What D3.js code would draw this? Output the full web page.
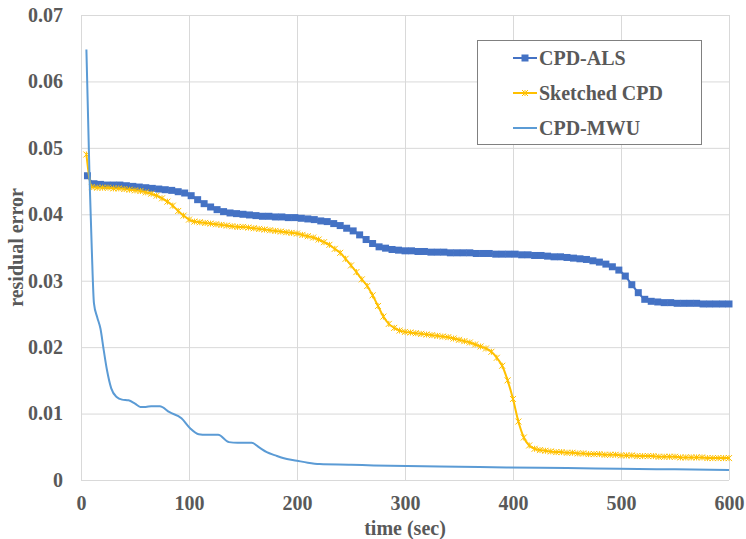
<!DOCTYPE html>
<html>
<head>
<meta charset="utf-8">
<script src="https://d3js.org/d3.v7.min.js"></script>
<style>
body { margin: 0; background: #fff; }
text { font-family: "Liberation Serif", "Times New Roman", serif; font-weight: bold; fill: #595959; }
.grid line { stroke: #d9d9d9; stroke-width: 1; }
</style>
</head>
<body>
<div id="chart"></div>
<script>
// series names + colors
var seriesNames = ["CPD-ALS", "Sketched CPD", "CPD-MWU"];
var seriesColors = ["#4472C4", "#FFC000", "#5B9BD5"];

// CPD-ALS: time (sec) and residual error
var alsTime = [6,12,18,24,30,36,42,48,54,60,66,72,78,84,90,96,102,108,114,120,126,132,138,144,150,156,162,168,174,180,186,192,198,204,210,216,222,228,234,240,246,252,258,264,270,276,282,288,294,300,306,312,318,324,330,336,342,348,354,360,366,372,378,384,390,396,402,408,414,420,426,432,438,444,450,456,462,468,474,480,486,492,498,504,510,516,522,528,534,540,546,552,558,564,570,576,582,588,594,600];
var alsErr = [0.0458,0.0446,0.0445,0.0444,0.0444,0.0444,0.0443,0.0442,0.0441,0.0440,0.0439,0.0438,0.0437,0.0436,0.0434,0.0432,0.0428,0.0422,0.0416,0.0411,0.0407,0.0404,0.0402,0.0401,0.0400,0.0399,0.0398,0.0397,0.0397,0.0396,0.0396,0.0395,0.0395,0.0394,0.0393,0.0392,0.0390,0.0389,0.0386,0.0383,0.0379,0.0375,0.0369,0.0362,0.0356,0.0351,0.0349,0.0347,0.0346,0.0345,0.0345,0.0344,0.0344,0.0343,0.0343,0.0343,0.0342,0.0342,0.0342,0.0342,0.0341,0.0341,0.0341,0.0340,0.0340,0.0340,0.0340,0.0339,0.0339,0.0338,0.0338,0.0337,0.0336,0.0336,0.0335,0.0334,0.0333,0.0332,0.0330,0.0328,0.0325,0.0321,0.0316,0.0307,0.0294,0.0282,0.0272,0.0269,0.0268,0.0267,0.0267,0.0266,0.0266,0.0266,0.0266,0.0265,0.0265,0.0265,0.0265,0.0265];

// Sketched CPD
var skTime = [5,10,15,20,25,30,35,40,45,50,55,60,65,70,75,80,85,90,95,100,105,110,115,120,125,130,135,140,145,150,155,160,165,170,175,180,185,190,195,200,205,210,215,220,225,230,235,240,245,250,255,260,265,270,275,280,285,290,295,300,305,310,315,320,325,330,335,340,345,350,355,360,365,370,375,380,385,390,395,400,405,410,415,420,425,430,435,440,445,450,455,460,465,470,475,480,485,490,495,500,505,510,515,520,525,530,535,540,545,550,555,560,565,570,575,580,585,590,595,600];
var skErr = [0.0490,0.0441,0.0440,0.0440,0.0440,0.0439,0.0439,0.0438,0.0437,0.0436,0.0435,0.0433,0.0431,0.0428,0.0424,0.0419,0.0413,0.0405,0.0398,0.0392,0.0389,0.0388,0.0387,0.0386,0.0385,0.0384,0.0383,0.0382,0.0381,0.0381,0.0380,0.0379,0.0378,0.0377,0.0376,0.0375,0.0374,0.0373,0.0372,0.0371,0.0369,0.0367,0.0365,0.0362,0.0358,0.0354,0.0348,0.0342,0.0333,0.0323,0.0313,0.0302,0.0292,0.0278,0.0262,0.0246,0.0235,0.0229,0.0225,0.0223,0.0222,0.0221,0.0220,0.0219,0.0218,0.0217,0.0216,0.0215,0.0213,0.0211,0.0209,0.0207,0.0204,0.0201,0.0198,0.0193,0.0184,0.0172,0.0150,0.0122,0.0088,0.0064,0.0052,0.0047,0.0045,0.0044,0.0043,0.0042,0.0042,0.0041,0.0041,0.0040,0.0040,0.0039,0.0039,0.0039,0.0038,0.0038,0.0038,0.0037,0.0037,0.0037,0.0036,0.0036,0.0036,0.0036,0.0035,0.0035,0.0035,0.0035,0.0034,0.0034,0.0034,0.0034,0.0034,0.0033,0.0033,0.0033,0.0033,0.0033];

// CPD-MWU
var mwuTime = [5,8,10,12,15,18,21,24,28,33,38,44,50,55,60,65,73,82,93,101,109,116,127,137,145,153,158,165,172,180,187,200,210,221,250,271,302,350,394,450,499,550,600];
var mwuErr = [0.0648,0.0450,0.0347,0.0266,0.0245,0.0228,0.0196,0.0166,0.0138,0.0125,0.0121,0.0120,0.0115,0.0110,0.0110,0.0111,0.0111,0.0102,0.0093,0.0078,0.0069,0.0068,0.0068,0.0057,0.0056,0.0056,0.0056,0.0049,0.0042,0.0037,0.0033,0.0029,0.0026,0.0024,0.0023,0.0022,0.0021,0.0020,0.0019,0.0018,0.0017,0.0016,0.0015];

var xTicks = [0,100,200,300,400,500,600];
var yTicks = [0,0.01,0.02,0.03,0.04,0.05,0.06,0.07];

var W = 746, H = 539;
var margin = {top: 15, right: 17, bottom: 59, left: 81};
var width = W - margin.left - margin.right,
    height = H - margin.top - margin.bottom;

var svg = d3.select("#chart").append("svg")
    .attr("width", W)
    .attr("height", H)
  .append("g")
    .attr("transform", "translate(" + margin.left + "," + margin.top + ")");

var x = d3.scaleLinear().domain([0, 600]).range([0, width]);
var y = d3.scaleLinear().domain([0, 0.07]).range([height, 0]);

// gridlines
svg.append("g").attr("class", "grid")
  .call(d3.axisLeft(y).tickValues(yTicks).tickSize(-width).tickFormat(""))
  .select(".domain").remove();
svg.append("g").attr("class", "grid")
  .attr("transform", "translate(0," + height + ")")
  .call(d3.axisBottom(x).tickValues(xTicks).tickSize(-height).tickFormat(""))
  .select(".domain").remove();

// tick labels
var yAx = svg.append("g")
  .call(d3.axisLeft(y).tickValues(yTicks).tickSize(0).tickPadding(18)
    .tickFormat(function(d) { return d === 0 ? "0" : d3.format(".2f")(d); }));
yAx.select(".domain").remove();
yAx.selectAll("text").style("font-size", "20px").attr("fill", null);

var xAx = svg.append("g")
  .attr("transform", "translate(0," + height + ")")
  .call(d3.axisBottom(x).tickValues(xTicks).tickSize(0).tickPadding(16));
xAx.select(".domain").remove();
xAx.selectAll("text").style("font-size", "20px").attr("fill", null);

// axis titles
svg.append("text")
  .attr("x", width / 2)
  .attr("y", height + 55)
  .attr("text-anchor", "middle")
  .style("font-size", "20px")
  .text("time (sec)");
svg.append("text")
  .attr("transform", "translate(" + (-58) + "," + (height / 2) + ") rotate(-90)")
  .attr("text-anchor", "middle")
  .style("font-size", "20px")
  .text("residual error");

var line = d3.line()
  .x(function(d) { return x(d[0]); })
  .y(function(d) { return y(d[1]); })
  .curve(d3.curveMonotoneX);

var als = d3.zip(alsTime, alsErr),
    sk = d3.zip(skTime, skErr),
    mwu = d3.zip(mwuTime, mwuErr);

function star(g, cx, cy, r, color) {
  g.append("path")
    .attr("d", "M" + (cx - r) + "," + (cy - r) + "L" + (cx + r) + "," + (cy + r) +
               "M" + (cx - r) + "," + (cy + r) + "L" + (cx + r) + "," + (cy - r) +
               "M" + cx + "," + (cy - r) + "L" + cx + "," + (cy + r))
    .attr("stroke", color)
    .attr("stroke-width", 1)
    .attr("fill", "none");
}

// CPD-ALS
svg.append("path").datum(als)
  .attr("d", line)
  .attr("fill", "none")
  .attr("stroke", seriesColors[0])
  .attr("stroke-width", 2);
svg.selectAll(".sq").data(als).enter().append("rect")
  .attr("x", function(d) { return x(d[0]) - 3.5; })
  .attr("y", function(d) { return y(d[1]) - 3.5; })
  .attr("width", 7).attr("height", 7)
  .attr("fill", seriesColors[0]);

// Sketched CPD
svg.append("path").datum(sk)
  .attr("d", line)
  .attr("fill", "none")
  .attr("stroke", seriesColors[1])
  .attr("stroke-width", 2);
var skG = svg.append("g");
sk.forEach(function(d) { star(skG, x(d[0]), y(d[1]), 3, seriesColors[1]); });

// CPD-MWU
svg.append("path").datum(mwu)
  .attr("d", line)
  .attr("fill", "none")
  .attr("stroke", seriesColors[2])
  .attr("stroke-width", 2);

// legend
var lg = d3.select("svg").append("g");
lg.append("rect")
  .attr("x", 477.5).attr("y", 40.5)
  .attr("width", 224).attr("height", 104)
  .attr("fill", "#fff")
  .attr("stroke", "#808080")
  .attr("stroke-width", 1);
var legendY = [58, 93, 128];
seriesNames.forEach(function(name, i) {
  var ly = legendY[i];
  lg.append("line")
    .attr("x1", 513).attr("x2", 537)
    .attr("y1", ly).attr("y2", ly)
    .attr("stroke", seriesColors[i])
    .attr("stroke-width", 2);
  if (i === 0) {
    lg.append("rect").attr("x", 521.5).attr("y", ly - 3.5)
      .attr("width", 7).attr("height", 7).attr("fill", seriesColors[0]);
  } else if (i === 1) {
    star(lg, 525, ly, 3, seriesColors[1]);
  }
  lg.append("text")
    .attr("x", 539).attr("y", ly)
    .attr("dy", "0.35em")
    .style("font-size", "20px")
    .text(name);
});
</script>
</body>
</html>
